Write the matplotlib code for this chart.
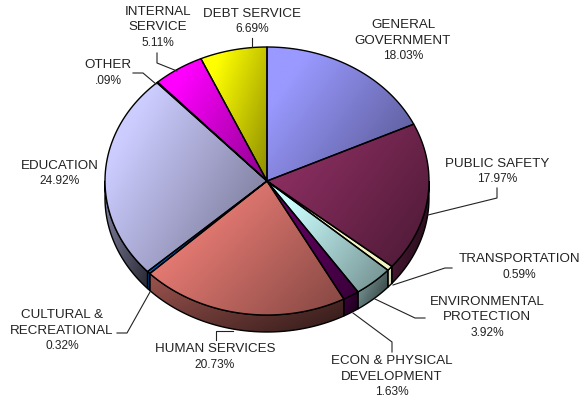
import numpy as np
import matplotlib
matplotlib.use("Agg")
import matplotlib.pyplot as plt
from matplotlib.patches import PathPatch
from matplotlib.path import Path

plt.rcParams['font.family'] = ['Liberation Sans', 'DejaVu Sans']

names = ["GENERAL\nGOVERNMENT", "PUBLIC SAFETY", "TRANSPORTATION",
         "ENVIRONMENTAL\nPROTECTION", "ECON & PHYSICAL\nDEVELOPMENT",
         "HUMAN SERVICES", "CULTURAL &\nRECREATIONAL", "EDUCATION",
         "OTHER", "INTERNAL\nSERVICE", "DEBT SERVICE"]
shares = [18.03, 17.97, 0.59, 3.92, 1.63, 20.73, 0.32, 24.92, 0.09, 5.11, 6.69]
pct_labels = ["18.03%", "17.97%", "0.59%", "3.92%", "1.63%", "20.73%",
              "0.32%", "24.92%", ".09%", "5.11%", "6.69%"]
colors = ["#9999FF", "#8A2E60", "#FFFFCC", "#CCFFFF", "#660066", "#F08078",
          "#0066CC", "#CCCCFF", "#000080", "#FF00FF", "#FFFF00"]

# label centre (x, y of first line) in pixels
label_pos = [(403, 25), (497, 164), (519, 259), (487, 302), (392, 361),
             (215, 349), (62, 315), (60, 166), (108, 65), (158, 12), (252, 14)]

# leader lines, None where the chart has none
leaders = [None,
           [(428, 215), (497, 198), (497, 188)],
           [(393, 285), (445, 268), (452, 268)],
           [(375, 299), (415, 318), (425, 318)],
           [(353, 313), (392, 342), (392, 352)],
           [(233, 331), (216, 331), (216, 340)],
           [(150, 292), (127, 333), (117, 333)],
           None,
           [(156, 84), (143, 73), (133, 73)],
           [(177, 71), (157, 63), (157, 53)],
           [(252, 47), (252, 38)]]

cx, cy = 267, 181
rx, ry = 162, 134
depth = 17
line_step = 15.5

fig = plt.figure(figsize=(583 / 100, 401 / 100), dpi=100)
ax = fig.add_axes([0, 0, 1, 1])


def gradient(verts, color, start, end, zorder):
    # fill a shape with its colour fading towards the lower right
    x0, y0 = verts.min(axis=0)
    x1, y1 = verts.max(axis=0)
    xx, yy = np.meshgrid(np.linspace(0, 1, 80), np.linspace(0, 1, 80))
    t = 0.6 * xx + 0.4 * yy
    fade = np.clip(start + (end - start) * t, 0, 1)
    rgb = np.array(matplotlib.colors.to_rgb(color))
    img = fade[:, :, None] * rgb
    patch = PathPatch(Path(verts), facecolor='none', edgecolor='black', lw=1.0,
                      joinstyle='round', zorder=zorder + 0.5)
    ax.add_patch(patch)
    im = ax.imshow(img, extent=(x0, x1, y1, y0), aspect='auto', zorder=zorder,
                   interpolation='bilinear')
    im.set_clip_path(patch)


edges = np.concatenate([[0], np.cumsum(shares)]) / sum(shares) * 2 * np.pi

# side wall first, only the part of the rim facing the viewer
for i in range(len(shares)):
    a0 = max(edges[i], np.pi / 2)
    a1 = min(edges[i + 1], 3 * np.pi / 2)
    if a1 <= a0:
        continue
    th = np.linspace(a0, a1, 60)
    rim = np.column_stack([cx + rx * np.sin(th), cy - ry * np.cos(th)])
    low = rim[::-1] + [0, depth]
    if shares[i] < 1:
        gradient(np.vstack([rim, low, rim[:1]]), colors[i], 0.9, 0.8, 2)
    else:
        gradient(np.vstack([rim, low, rim[:1]]), colors[i], 0.65, 0.2, 2)

# top faces, the thin slices stay bright
for i in range(len(shares)):
    th = np.linspace(edges[i], edges[i + 1], 120)
    rim = np.column_stack([cx + rx * np.sin(th), cy - ry * np.cos(th)])
    verts = np.vstack([[cx, cy], rim, [cx, cy]])
    if shares[i] < 1:
        gradient(verts, colors[i], 1.0, 0.95, 3)
    else:
        gradient(verts, colors[i], 1.1, 0.55, 3)

for i, name in enumerate(names):
    x, y = label_pos[i]
    lines = name.split("\n")
    for k, line in enumerate(lines):
        ax.text(x, y + line_step * k, line, ha='center', va='center', fontsize=9.6,
                color='#222222')
    ax.text(x, y + line_step * len(lines), pct_labels[i], ha='center', va='center',
            fontsize=8.6, color='#222222')
    if leaders[i] is not None:
        pts = np.array(leaders[i])
        ax.plot(pts[:, 0], pts[:, 1], color='#222222', lw=0.8, zorder=4)

ax.set_xlim(0, 583)
ax.set_ylim(401, 0)
ax.axis('off')
fig.savefig('out.png', dpi=100, facecolor='white')
